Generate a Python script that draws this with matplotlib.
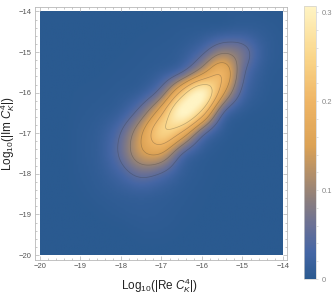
import matplotlib
matplotlib.use("Agg")
import matplotlib.pyplot as plt
import numpy as np
from matplotlib.colors import LinearSegmentedColormap
from matplotlib.ticker import FixedLocator, MultipleLocator

plt.rcParams['font.family'] = ['Liberation Sans', 'DejaVu Sans']
plt.rcParams['mathtext.fontset'] = 'custom'
plt.rcParams['mathtext.rm'] = 'Liberation Sans'
plt.rcParams['mathtext.it'] = 'Liberation Sans:italic'

# density, rows from Y=-20 up to Y=-14, columns X=-20..-14
x_nodes = [-20, -19.5, -19, -18.5, -18, -17.5, -17, -16.5, -16, -15.5, -15, -14.5, -14]
y_nodes = [-20, -19.5, -19, -18.5, -18, -17.5, -17, -16.5, -16, -15.5, -15, -14.5, -14]
density = [
    [0, 0, 0, 0, 0, 0, 0, 0, 0, 0, 0, 0, 0],
    [0, 0, 0, 0, 0, 0.003, 0.003, 0.001, 0, 0, 0, 0, 0],
    [0, 0, 0, 0.002, 0.005, 0.007, 0.006, 0.003, 0.001, 0, 0, 0, 0],
    [0, 0, 0.002, 0.006, 0.01, 0.014, 0.01, 0.005, 0.002, 0, 0, 0, 0],
    [0, 0, 0.004, 0.01, 0.03, 0.062, 0.043, 0.012, 0.004, 0.001, 0, 0, 0],
    [0, 0, 0.005, 0.014, 0.058, 0.145, 0.155, 0.04, 0.009, 0.002, 0, 0, 0],
    [0, 0, 0.005, 0.012, 0.05, 0.145, 0.26, 0.195, 0.052, 0.008, 0.002, 0, 0],
    [0, 0, 0.003, 0.006, 0.016, 0.07, 0.19, 0.335, 0.24, 0.04, 0.006, 0.002, 0],
    [0, 0, 0.002, 0.003, 0.006, 0.014, 0.065, 0.225, 0.335, 0.17, 0.034, 0.006, 0.002],
    [0, 0, 0, 0.001, 0.003, 0.005, 0.012, 0.036, 0.125, 0.215, 0.055, 0.009, 0.003],
    [0, 0, 0, 0, 0.001, 0.003, 0.005, 0.01, 0.036, 0.095, 0.075, 0.016, 0.004],
    [0, 0, 0, 0, 0, 0.001, 0.002, 0.004, 0.006, 0.01, 0.014, 0.008, 0.003],
    [0, 0, 0, 0, 0, 0, 0, 0.001, 0.001, 0.002, 0.003, 0.002, 0.001],
]
contour_levels = [0.05, 0.1, 0.15, 0.2, 0.25]
cbar_stops = [0, 0.03, 0.06, 0.09, 0.12, 0.15, 0.2, 0.25, 0.307]
cbar_colors = ['#2a5a90', '#4566a5', '#6a7095', '#8d7f7c', '#b59068',
               '#dca255', '#efb565', '#fad68a', '#fff4c4']
x_ticks = [-20, -19, -18, -17, -16, -15, -14]
cbar_ticks = [0, 0.1, 0.2, 0.3]
cbar_labels = ['0', '0.1', '0.2', '0.3']


def upsample(z, n=12):
    # catmull-rom along the last axis
    z = np.asarray(z, dtype=float)
    pos = np.linspace(0, z.shape[-1] - 1, (z.shape[-1] - 1) * n + 1)
    i = np.minimum(pos.astype(int), z.shape[-1] - 2)
    t = pos - i
    m = z.shape[-1] - 1
    p0 = z[..., np.maximum(i - 1, 0)]
    p1 = z[..., i]
    p2 = z[..., i + 1]
    p3 = z[..., np.minimum(i + 2, m)]
    return 0.5 * (2 * p1 + (p2 - p0) * t + (2 * p0 - 5 * p1 + 4 * p2 - p3) * t ** 2
                  + (3 * p1 - p0 - 3 * p2 + p3) * t ** 3)


def soften(z, sigma=3.5):
    # small blur so the 0.5-step grid does not show in the contours
    r = np.arange(-12, 13)
    k = np.exp(-r ** 2 / (2 * sigma ** 2))
    k = k / k.sum()
    z = np.pad(z, 12, mode='edge')
    z = np.apply_along_axis(np.convolve, 0, z, k, mode='same')
    z = np.apply_along_axis(np.convolve, 1, z, k, mode='same')
    return z[12:-12, 12:-12]


fine = soften(np.clip(upsample(upsample(density).T).T, 0, None))
xf = upsample(x_nodes)
yf = upsample(y_nodes)

W, H = 332, 298
fig = plt.figure(figsize=(W / 100, H / 100), dpi=100)
ax = fig.add_axes([34.5 / W, 1 - 260 / H, 252.5 / W, 253.5 / H])
cmap = LinearSegmentedColormap.from_list(
    'density', [(s / cbar_stops[-1], c) for s, c in zip(cbar_stops, cbar_colors)])
im = ax.imshow(fine, origin='lower', extent=[-20, -14, -20, -14], cmap=cmap,
               vmin=0, vmax=cbar_stops[-1], interpolation='bilinear', aspect='auto')
ax.contour(xf, yf, fine, levels=contour_levels, colors='#303030', linewidths=0.5, alpha=0.3)
ax.set_xlim(-20.136, -13.9)
ax.set_ylim(-20.123, -13.877)
ax.set_xticks(x_ticks)
ax.set_yticks(x_ticks)
ax.xaxis.set_minor_locator(MultipleLocator(0.2))
ax.yaxis.set_minor_locator(MultipleLocator(0.2))
ax.tick_params(which='major', direction='in', length=3, width=0.5, color='#b0b0b0',
               top=True, right=True, labelsize=5.5, labelcolor='#555555', pad=2)
ax.tick_params(which='minor', direction='in', length=1.5, width=0.5, color='#b0b0b0',
               top=True, right=True)
for s in ax.spines.values():
    s.set_color('#b8b8b8')
    s.set_linewidth(0.6)
ax.set_xlabel(r'Log$_{10}$(|Re $C_K^4$|)', fontsize=8.5, color='#222222', va='center')
ax.set_ylabel(r'Log$_{10}$(|Im $C_K^4$|)', fontsize=8.5, color='#222222', va='center')
ax.xaxis.set_label_coords(0.497, -0.1)
ax.yaxis.set_label_coords(-0.105, 0.5)

cax = fig.add_axes([303.7 / W, 1 - 279 / H, 12 / W, 273 / H])
cb = fig.colorbar(im, cax=cax)
cb.set_ticks(cbar_ticks, labels=cbar_labels)
cax.yaxis.set_minor_locator(FixedLocator(np.arange(0, 0.31, 0.02)))
cax.tick_params(which='major', length=1.5, width=0.4, color='#c8c8c8', labelsize=5.5,
                labelcolor='#888888', pad=2.5)
cax.tick_params(which='minor', length=1.5, width=0.4, color='#c8c8c8')
cb.outline.set_edgecolor('#d0d0d0')
cb.outline.set_linewidth(0.5)

fig.savefig('out.png', dpi=100)
